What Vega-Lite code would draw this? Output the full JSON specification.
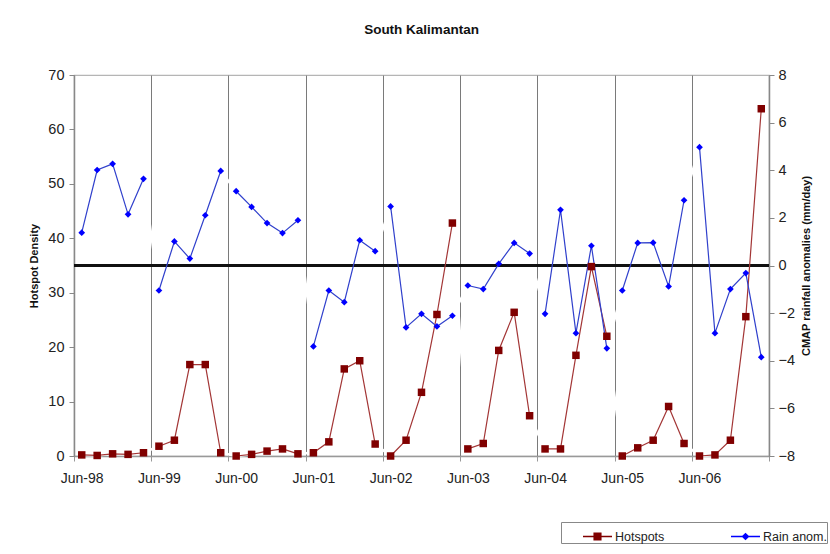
{
  "$schema": "https://vega.github.io/schema/vega-lite/v6.json",
  "width": 695,
  "height": 381,
  "autosize": "none",
  "padding": {"left": 74, "top": 75, "right": 61, "bottom": 98},
  "background": "white",
  "config": {
    "font": "Liberation Sans",
    "view": {"stroke": "#b5b5b5", "strokeWidth": 1.2},
    "axis": {"labelFont": "Liberation Sans", "titleFont": "Liberation Sans", "labelColor": "#222", "titleColor": "#111"}
  },
  "title": {"text": "South Kalimantan", "anchor": "middle", "frame": "group", "fontSize": 13.5, "fontWeight": "bold", "font": "Liberation Sans", "color": "#111", "offset": 31},
  "data": {"values": [
    {"m": 0, "yr": "98", "hot": 0.2, "rain": 1.38},
    {"m": 1, "yr": "98", "hot": 0.1, "rain": 4.01},
    {"m": 2, "yr": "98", "hot": 0.4, "rain": 4.27},
    {"m": 3, "yr": "98", "hot": 0.3, "rain": 2.15},
    {"m": 4, "yr": "98", "hot": 0.6, "rain": 3.64},
    {"m": 5, "yr": "99", "hot": 1.8, "rain": -1.05},
    {"m": 6, "yr": "99", "hot": 2.9, "rain": 1.01},
    {"m": 7, "yr": "99", "hot": 16.8, "rain": 0.29},
    {"m": 8, "yr": "99", "hot": 16.8, "rain": 2.11},
    {"m": 9, "yr": "99", "hot": 0.6, "rain": 3.97},
    {"m": 10, "yr": "00", "hot": 0.0, "rain": 3.12},
    {"m": 11, "yr": "00", "hot": 0.3, "rain": 2.46},
    {"m": 12, "yr": "00", "hot": 0.9, "rain": 1.78},
    {"m": 13, "yr": "00", "hot": 1.3, "rain": 1.36},
    {"m": 14, "yr": "00", "hot": 0.4, "rain": 1.9},
    {"m": 15, "yr": "01", "hot": 0.6, "rain": -3.4},
    {"m": 16, "yr": "01", "hot": 2.6, "rain": -1.05},
    {"m": 17, "yr": "01", "hot": 16.0, "rain": -1.54},
    {"m": 18, "yr": "01", "hot": 17.5, "rain": 1.06},
    {"m": 19, "yr": "01", "hot": 2.2, "rain": 0.6},
    {"m": 20, "yr": "02", "hot": 0.0, "rain": 2.48},
    {"m": 21, "yr": "02", "hot": 2.9, "rain": -2.6},
    {"m": 22, "yr": "02", "hot": 11.7, "rain": -2.03},
    {"m": 23, "yr": "02", "hot": 26.0, "rain": -2.56},
    {"m": 24, "yr": "02", "hot": 42.8, "rain": -2.11},
    {"m": 25, "yr": "03", "hot": 1.3, "rain": -0.84},
    {"m": 26, "yr": "03", "hot": 2.3, "rain": -0.99},
    {"m": 27, "yr": "03", "hot": 19.4, "rain": 0.07},
    {"m": 28, "yr": "03", "hot": 26.4, "rain": 0.95},
    {"m": 29, "yr": "03", "hot": 7.4, "rain": 0.5},
    {"m": 30, "yr": "04", "hot": 1.3, "rain": -2.03},
    {"m": 31, "yr": "04", "hot": 1.3, "rain": 2.34},
    {"m": 32, "yr": "04", "hot": 18.5, "rain": -2.84},
    {"m": 33, "yr": "04", "hot": 34.8, "rain": 0.83},
    {"m": 34, "yr": "04", "hot": 22.0, "rain": -3.48},
    {"m": 35, "yr": "05", "hot": 0.0, "rain": -1.05},
    {"m": 36, "yr": "05", "hot": 1.5, "rain": 0.95},
    {"m": 37, "yr": "05", "hot": 2.9, "rain": 0.96},
    {"m": 38, "yr": "05", "hot": 9.1, "rain": -0.88},
    {"m": 39, "yr": "05", "hot": 2.3, "rain": 2.74},
    {"m": 40, "yr": "06", "hot": 0.0, "rain": 4.97},
    {"m": 41, "yr": "06", "hot": 0.2, "rain": -2.84},
    {"m": 42, "yr": "06", "hot": 2.9, "rain": -0.99},
    {"m": 43, "yr": "06", "hot": 25.6, "rain": -0.32},
    {"m": 44, "yr": "06", "hot": 63.8, "rain": -3.85}
  ]},
  "resolve": {"scale": {"y": "independent"}},
  "layer": [
    {
      "mark": {"type": "line", "color": "white", "strokeWidth": 2.5},
      "encoding": {
        "x": {"field": "m", "type": "quantitative", "scale": {"domain": [-0.5, 44.5], "nice": false, "zero": false},
          "axis": {"values": [-0.5, 4.5, 9.5, 14.5, 19.5, 24.5, 29.5, 34.5, 39.5, 44.5], "grid": true, "gridColor": "#7a7a7a", "gridWidth": 1,
            "labelExpr": "datum.value > 44 ? '' : 'Jun-' + slice('0' + ((98 + round((datum.value + 0.5) / 5)) % 100), -2)",
            "labelOffset": 7.7, "labelFlush": false, "labelOverlap": false, "labelBound": false, "labelFontSize": 14, "labelPadding": 10,
            "title": null, "domainColor": "#999", "domainWidth": 1.5, "tickColor": "#999", "tickSize": 5}},
        "y": {"field": "hot", "type": "quantitative", "scale": {"domain": [0, 70], "nice": false}, "axis": null}
      }
    },
    {
      "mark": {"type": "line", "color": "white", "strokeWidth": 2.5},
      "encoding": {
        "x": {"field": "m", "type": "quantitative", "scale": {"domain": [-0.5, 44.5], "nice": false, "zero": false},
          "axis": {"values": [-0.5, 4.5, 9.5, 14.5, 19.5, 24.5, 29.5, 34.5, 39.5, 44.5], "grid": true, "gridColor": "#7a7a7a", "gridWidth": 1,
            "labelExpr": "datum.value > 44 ? '' : 'Jun-' + slice('0' + ((98 + round((datum.value + 0.5) / 5)) % 100), -2)",
            "labelOffset": 7.7, "labelFlush": false, "labelOverlap": false, "labelBound": false, "labelFontSize": 14, "labelPadding": 10,
            "title": null, "domainColor": "#999", "domainWidth": 1.5, "tickColor": "#999", "tickSize": 5}},
        "y": {"field": "rain", "type": "quantitative", "scale": {"domain": [-8, 8], "nice": false, "zero": false}, "axis": null}
      }
    },
    {
      "mark": {"type": "rule", "color": "#111", "strokeWidth": 2},
      "encoding": {
        "y": {"datum": 0, "type": "quantitative", "scale": {"domain": [-8, 8], "nice": false, "zero": false}, "axis": null}
      }
    },
    {
      "mark": {"type": "line", "color": "#a33636", "strokeWidth": 1.2},
      "encoding": {
        "x": {"field": "m", "type": "quantitative", "scale": {"domain": [-0.5, 44.5], "nice": false, "zero": false},
          "axis": {"values": [-0.5, 4.5, 9.5, 14.5, 19.5, 24.5, 29.5, 34.5, 39.5, 44.5], "grid": true, "gridColor": "#7a7a7a", "gridWidth": 1,
            "labelExpr": "datum.value > 44 ? '' : 'Jun-' + slice('0' + ((98 + round((datum.value + 0.5) / 5)) % 100), -2)",
            "labelOffset": 7.7, "labelFlush": false, "labelOverlap": false, "labelBound": false, "labelFontSize": 14, "labelPadding": 10,
            "title": null, "domainColor": "#999", "domainWidth": 1.5, "tickColor": "#999", "tickSize": 5}},
        "y": {"field": "hot", "type": "quantitative", "scale": {"domain": [0, 70], "nice": false},
          "axis": {"orient": "left", "values": [0, 10, 20, 30, 40, 50, 60, 70], "grid": false, "title": "Hotspot Density", "titleFontSize": 11, "titleFontWeight": "bold", "titlePadding": 8,
            "labelFontSize": 14.5, "labelPadding": 5, "domainColor": "#888", "domainWidth": 1.5, "tickColor": "#888", "tickSize": 5}},
        "detail": {"field": "yr"}
      }
    },
    {
      "mark": {"type": "line", "color": "#3040cc", "strokeWidth": 1.2},
      "encoding": {
        "x": {"field": "m", "type": "quantitative", "scale": {"domain": [-0.5, 44.5], "nice": false, "zero": false},
          "axis": {"values": [-0.5, 4.5, 9.5, 14.5, 19.5, 24.5, 29.5, 34.5, 39.5, 44.5], "grid": true, "gridColor": "#7a7a7a", "gridWidth": 1,
            "labelExpr": "datum.value > 44 ? '' : 'Jun-' + slice('0' + ((98 + round((datum.value + 0.5) / 5)) % 100), -2)",
            "labelOffset": 7.7, "labelFlush": false, "labelOverlap": false, "labelBound": false, "labelFontSize": 14, "labelPadding": 10,
            "title": null, "domainColor": "#999", "domainWidth": 1.5, "tickColor": "#999", "tickSize": 5}},
        "y": {"field": "rain", "type": "quantitative", "scale": {"domain": [-8, 8], "nice": false, "zero": false},
          "axis": {"orient": "right", "values": [-8, -6, -4, -2, 0, 2, 4, 6, 8], "grid": false, "title": "CMAP rainfall anomalies (mm/day)", "titleFontSize": 11, "titleFontWeight": "bold", "titleAngle": 270, "titlePadding": 17,
            "labelFontSize": 14.5, "labelPadding": 4, "domainColor": "#888", "domainWidth": 1.5, "tickColor": "#888", "tickSize": 5}},
        "detail": {"field": "yr"}
      }
    },
    {
      "mark": {"type": "point", "filled": true, "size": 841, "opacity": 0},
      "encoding": {
        "x": {"field": "m", "type": "quantitative", "scale": {"domain": [-0.5, 44.5], "nice": false, "zero": false},
          "axis": {"values": [-0.5, 4.5, 9.5, 14.5, 19.5, 24.5, 29.5, 34.5, 39.5, 44.5], "grid": true, "gridColor": "#7a7a7a", "gridWidth": 1,
            "labelExpr": "datum.value > 44 ? '' : 'Jun-' + slice('0' + ((98 + round((datum.value + 0.5) / 5)) % 100), -2)",
            "labelOffset": 7.7, "labelFlush": false, "labelOverlap": false, "labelBound": false, "labelFontSize": 14, "labelPadding": 10,
            "title": null, "domainColor": "#999", "domainWidth": 1.5, "tickColor": "#999", "tickSize": 5}},
        "y": {"field": "hot", "type": "quantitative", "scale": {"domain": [0, 70], "nice": false}, "axis": null},
        "color": {"datum": "Hotspots", "type": "nominal", "scale": {"domain": ["Hotspots", "Rain anom."], "range": ["#800000", "#0000ff"]},
          "legend": {"title": null, "orient": "none", "legendX": 487, "legendY": 447, "direction": "horizontal", "columns": 2,
            "strokeColor": "#888", "fillColor": "white", "padding": 0, "symbolOffset": 22, "columnPadding": 44,
            "symbolSize": 841, "symbolStrokeWidth": 0, "symbolOpacity": 1, "labelFontSize": 12.5, "labelColor": "#222", "labelFont": "Liberation Sans", "labelOffset": 3,
            "labelExpr": "datum.label === 'Rain anom.' ? datum.label + '\u00a0\u00a0\u00a0\u00a0\u00a0\u00a0\u00a0' : datum.label"}},
        "shape": {"datum": "Hotspots", "type": "nominal", "scale": {"domain": ["Hotspots", "Rain anom."], "range": ["M-1,-0.045H-0.28V-0.28H0.28V-0.045H1V0.045H0.28V0.28H-0.28V0.045H-1Z", "M-1,-0.045H-0.22L0,-0.26L0.22,-0.045H1V0.045H0.22L0,0.26L-0.22,0.045H-1Z"]},
          "legend": {"title": null, "orient": "none", "legendX": 487, "legendY": 447, "direction": "horizontal", "columns": 2,
            "strokeColor": "#888", "fillColor": "white", "padding": 0, "symbolOffset": 22, "columnPadding": 44,
            "symbolSize": 841, "symbolStrokeWidth": 0, "symbolOpacity": 1, "labelFontSize": 12.5, "labelColor": "#222", "labelFont": "Liberation Sans", "labelOffset": 3,
            "labelExpr": "datum.label === 'Rain anom.' ? datum.label + '\u00a0\u00a0\u00a0\u00a0\u00a0\u00a0\u00a0' : datum.label"}}
      }
    },
    {
      "mark": {"type": "point", "filled": true, "size": 841, "opacity": 0},
      "encoding": {
        "x": {"field": "m", "type": "quantitative", "scale": {"domain": [-0.5, 44.5], "nice": false, "zero": false},
          "axis": {"values": [-0.5, 4.5, 9.5, 14.5, 19.5, 24.5, 29.5, 34.5, 39.5, 44.5], "grid": true, "gridColor": "#7a7a7a", "gridWidth": 1,
            "labelExpr": "datum.value > 44 ? '' : 'Jun-' + slice('0' + ((98 + round((datum.value + 0.5) / 5)) % 100), -2)",
            "labelOffset": 7.7, "labelFlush": false, "labelOverlap": false, "labelBound": false, "labelFontSize": 14, "labelPadding": 10,
            "title": null, "domainColor": "#999", "domainWidth": 1.5, "tickColor": "#999", "tickSize": 5}},
        "y": {"field": "rain", "type": "quantitative", "scale": {"domain": [-8, 8], "nice": false, "zero": false}, "axis": null},
        "color": {"datum": "Rain anom.", "type": "nominal"},
        "shape": {"datum": "Rain anom.", "type": "nominal"}
      }
    },
    {
      "mark": {"type": "point", "shape": "square", "filled": true, "size": 56, "opacity": 1, "color": "#800000"},
      "encoding": {
        "x": {"field": "m", "type": "quantitative", "scale": {"domain": [-0.5, 44.5], "nice": false, "zero": false},
          "axis": {"values": [-0.5, 4.5, 9.5, 14.5, 19.5, 24.5, 29.5, 34.5, 39.5, 44.5], "grid": true, "gridColor": "#7a7a7a", "gridWidth": 1,
            "labelExpr": "datum.value > 44 ? '' : 'Jun-' + slice('0' + ((98 + round((datum.value + 0.5) / 5)) % 100), -2)",
            "labelOffset": 7.7, "labelFlush": false, "labelOverlap": false, "labelBound": false, "labelFontSize": 14, "labelPadding": 10,
            "title": null, "domainColor": "#999", "domainWidth": 1.5, "tickColor": "#999", "tickSize": 5}},
        "y": {"field": "hot", "type": "quantitative", "scale": {"domain": [0, 70], "nice": false}, "axis": null}
      }
    },
    {
      "mark": {"type": "point", "shape": "diamond", "filled": true, "size": 45, "opacity": 1, "color": "#0000ff"},
      "encoding": {
        "x": {"field": "m", "type": "quantitative", "scale": {"domain": [-0.5, 44.5], "nice": false, "zero": false},
          "axis": {"values": [-0.5, 4.5, 9.5, 14.5, 19.5, 24.5, 29.5, 34.5, 39.5, 44.5], "grid": true, "gridColor": "#7a7a7a", "gridWidth": 1,
            "labelExpr": "datum.value > 44 ? '' : 'Jun-' + slice('0' + ((98 + round((datum.value + 0.5) / 5)) % 100), -2)",
            "labelOffset": 7.7, "labelFlush": false, "labelOverlap": false, "labelBound": false, "labelFontSize": 14, "labelPadding": 10,
            "title": null, "domainColor": "#999", "domainWidth": 1.5, "tickColor": "#999", "tickSize": 5}},
        "y": {"field": "rain", "type": "quantitative", "scale": {"domain": [-8, 8], "nice": false, "zero": false}, "axis": null}
      }
    }
  ]
}
